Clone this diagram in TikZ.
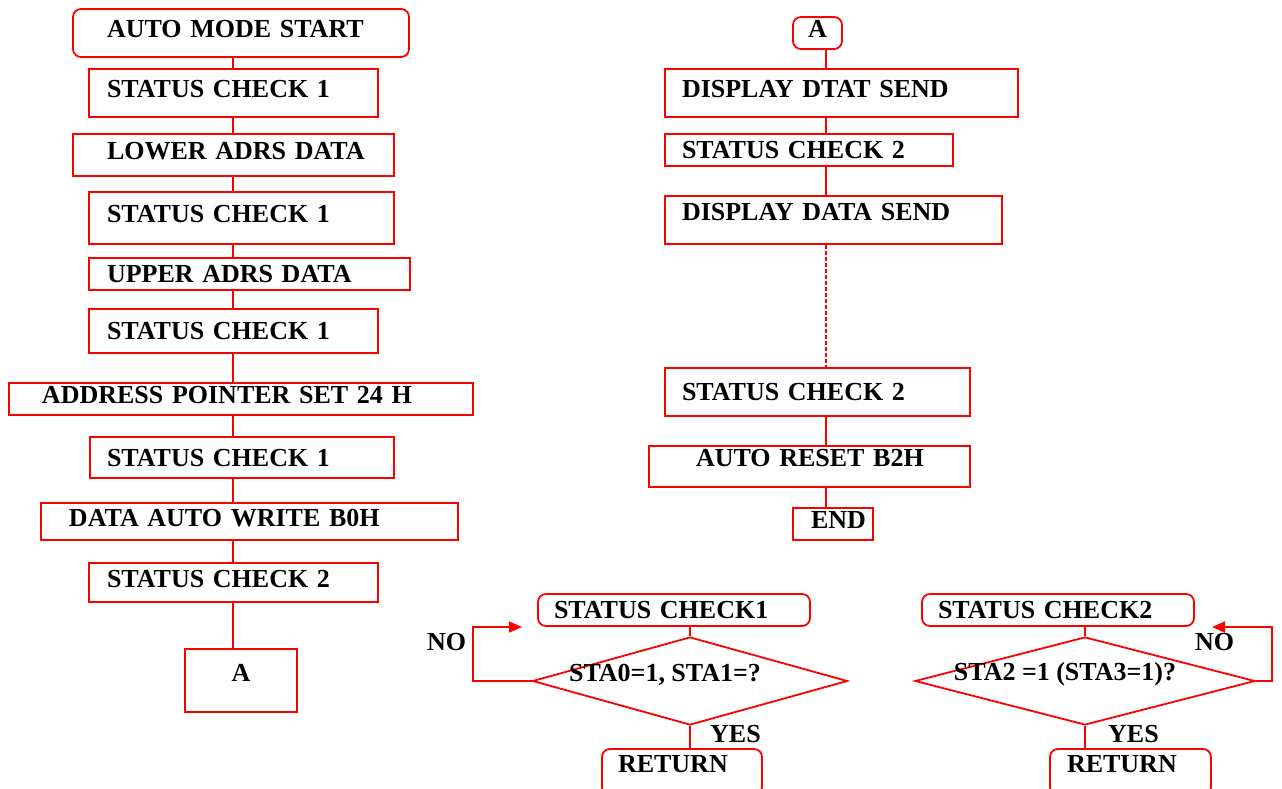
\documentclass[tikz,border=0pt]{standalone}
\usepackage{fontspec}
\setmainfont{Liberation Serif}
\usetikzlibrary{shapes.geometric,
	arrows.meta,
	calc}
\definecolor{fred}{RGB}{255,0,0}
\tikzstyle{blk}=[draw=fred, line width=1.8pt, inner xsep=0, inner ysep=0,
		align=left, text depth=8pt, font=\fontsize{26}{30}\selectfont\bfseries]
\tikzstyle{rnd}=[blk, rounded corners=8pt]
\tikzstyle{dec}=[draw=fred, line width=1.8pt, diamond, inner sep=0]
\tikzstyle{txt}=[inner sep=0, font=\fontsize{26}{30}\selectfont\bfseries]
\tikzstyle{ln}=[draw=fred, line width=1.8pt]
\tikzstyle{tip}=[-{Triangle[length=13pt,width=11pt]}]

\begin{document}
\begin{tikzpicture}[x=1pt, y=-1pt]
            \useasboundingbox (0,0) rectangle (1282,789);
            \fill[white] (0,0) rectangle (1282,789);
            % left column
            \node[rnd, text width=336pt, minimum height=48pt] (start) at (241,33) {\hspace*{34pt}AUTO MODE START};
            \node[blk, text width=289pt, minimum height=48pt] (sc1a) at (233.5,93) {\hspace*{18pt}STATUS CHECK 1};
            \node[blk, text width=321pt, minimum height=42pt] (lower) at (233.5,155) {\hspace*{34pt}LOWER ADRS DATA};
            \node[blk, text width=305pt, minimum height=52pt] (sc1b) at (241.5,218) {\hspace*{18pt}STATUS CHECK 1};
            \node[blk, text width=321pt, minimum height=32pt, text depth=0pt] (upper) at (249.5,274) {\hspace*{18pt}UPPER ADRS DATA};
            \node[blk, text width=289pt, minimum height=44pt, text depth=0pt] (sc1c) at (233.5,331) {\hspace*{18pt}STATUS CHECK 1};
            \node[blk, text width=464pt, minimum height=32pt] (apset) at (241,399) {\hspace*{33pt}ADDRESS POINTER SET 24 H};
            \node[blk, text width=304pt, minimum height=41pt, text depth=0pt] (sc1d) at (242,457.5) {\hspace*{17pt}STATUS CHECK 1};
            \node[blk, text width=417pt, minimum height=37pt] (autowr) at (249.5,521.5) {\hspace*{28pt}DATA AUTO WRITE B0H};
            \node[blk, text width=289pt, minimum height=39pt] (sc2a) at (233.5,582.5) {\hspace*{18pt}STATUS CHECK 2};
            \node[blk, text width=112pt, minimum height=63pt, align=center, text depth=16pt] (outa) at (241,680.5) {A};
            % right column
            \node[rnd, text width=49pt, minimum height=32pt, align=center] (ina) at (817.5,33) {A};
            \node[blk, text width=353pt, minimum height=48pt] (dsend1) at (841.5,93) {\hspace*{17pt}DISPLAY DTAT SEND};
            \node[blk, text width=288pt, minimum height=32pt, text depth=0pt] (sc2b) at (809,150) {\hspace*{17pt}STATUS CHECK 2};
            \node[blk, text width=337pt, minimum height=48pt, text depth=17pt] (dsend2) at (833.5,220) {\hspace*{17pt}DISPLAY DATA SEND};
            \node[blk, text width=305pt, minimum height=48pt, text depth=0pt] (sc2c) at (817.5,392) {\hspace*{17pt}STATUS CHECK 2};
            \node[blk, text width=321pt, minimum height=41pt, text depth=17pt] (reset) at (809.5,466.5) {\hspace*{47pt}AUTO RESET B2H};
            \node[blk, text width=80pt, minimum height=32pt] (fin) at (833,524) {\hspace*{18pt}END};
            % status check routines
            \node[rnd, text width=272pt, minimum height=32pt, text depth=0pt] (chk1) at (674,610) {\hspace*{16pt}STATUS CHECK1};
            \node[dec, minimum width=315pt, minimum height=88pt] (q1) at (690,681) {};
            \node[txt, anchor=base] (q1t) at (665,681) {STA0=1, STA1=?};
            \node[rnd, text width=160pt, minimum height=46pt, text depth=17pt] (ret1) at (682,772) {\hspace*{16pt}RETURN};
            \node[txt, anchor=base west] (no1) at (427,650) {NO};
            \node[txt, anchor=base west] (yes1) at (710,742) {YES};
            \node[rnd, text width=272pt, minimum height=32pt, text depth=0pt] (chk2) at (1058,610) {\hspace*{16pt}STATUS CHECK2};
            \node[dec, minimum width=340pt, minimum height=88pt] (q2) at (1085,681) {};
            \node[txt, anchor=base] (q2t) at (1065,680) {STA2 =1 (STA3=1)?};
            \node[rnd, text width=161pt, minimum height=46pt, text depth=17pt] (ret2) at (1130.5,772) {\hspace*{17pt}RETURN};
            \node[txt, anchor=base west] (no2) at (1195,650) {NO};
            \node[txt, anchor=base west] (yes2) at (1108,742) {YES};
            % connectors
            \coordinate (lx) at (233,0);
            \coordinate (rx) at (826,0);
            \foreach \a/\b in {start/sc1a, sc1a/lower, lower/sc1b, sc1b/upper, upper/sc1c,
                    sc1c/apset, apset/sc1d, sc1d/autowr, autowr/sc2a, sc2a/outa}
                \draw[ln] (lx |- \a.south) -- (lx |- \b.north);
            \foreach \a/\b in {ina/dsend1, dsend1/sc2b, sc2b/dsend2, sc2c/reset, reset/fin}
                \draw[ln] (rx |- \a.south) -- (rx |- \b.north);
            \draw[ln, line width=1.2pt, dash pattern=on 4pt off 2pt] (rx |- dsend2.south) -- (rx |- sc2c.north);
            \draw[ln] (q1.north |- chk1.south) -- (q1.north);
            \draw[ln] (q1.south) -- (q1.south |- ret1.north);
            \coordinate (n1) at (473,627);
            \coordinate (n1e) at (522,627);
            \draw[ln, tip] (q1.west) -| (n1) -- (n1e);
            \draw[ln] (q2.north |- chk2.south) -- (q2.north);
            \draw[ln] (q2.south) -- (q2.south |- ret2.north);
            \coordinate (n2) at (1272,627);
            \coordinate (n2e) at (1212,627);
            \draw[ln, tip] (q2.east) -| (n2) -- (n2e);
\end{tikzpicture}
\end{document}
